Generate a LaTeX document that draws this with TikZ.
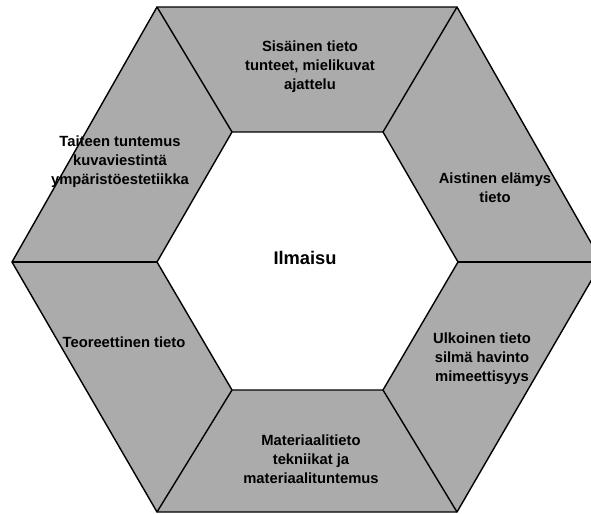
\documentclass[tikz,border=0pt]{standalone}
\usepackage{fontspec}
\setmainfont{Liberation Sans}
\begin{document}
\begin{tikzpicture}[x=0.025cm,y=-0.025cm,
    edge/.style={line width=1pt, line join=miter},
    lab/.style={align=center, inner sep=0pt,
      font=\bfseries\fontsize{10.5}{13.5}\selectfont}]
            \useasboundingbox (0,0) rectangle (591,513);
            \clip (0,0) rectangle (591,513);
            % outer hexagon
            \coordinate (o1) at (157,7);
            \coordinate (o2) at (457,7);
            \coordinate (o3) at (602,262);
            \coordinate (o4) at (457,512);
            \coordinate (o5) at (157,512);
            \coordinate (o6) at (12,262);
            % inner hexagon
            \coordinate (i1) at (232,132);
            \coordinate (i2) at (383,132);
            \coordinate (i3) at (458,262);
            \coordinate (i4) at (383,390);
            \coordinate (i5) at (232,390);
            \coordinate (i6) at (157,262);
            \draw[edge, fill=black!33] (o1) -- (o2) -- (o3) -- (o4) -- (o5) -- (o6) -- cycle;
            \draw[edge, fill=white] (i1) -- (i2) -- (i3) -- (i4) -- (i5) -- (i6) -- cycle;
            \foreach \k in {1,...,6}
                \draw[edge] (o\k) -- (i\k);
            \node[lab] (sisainen) at (310,67) {Sisäinen tieto\\tunteet, mielikuvat\\ajattelu};
            \node[lab] (taide) at (120,162) {Taiteen tuntemus\\kuvaviestintä\\ympäristöestetiikka};
            \node[lab] (aisti) at (495,188) {Aistinen elämys\\tieto};
            \node[lab, font=\bfseries\fontsize{13}{15}\selectfont] (ilmaisu) at (305,258) {Ilmaisu};
            \node[lab] (teoria) at (124,342) {Teoreettinen tieto};
            \node[lab] (ulkoinen) at (482,359) {Ulkoinen tieto\\silmä havinto\\mimeettisyys};
            \node[lab] (materiaali) at (311,459) {Materiaalitieto\\tekniikat ja\\materiaalituntemus};
        \end{tikzpicture}
\end{document}
